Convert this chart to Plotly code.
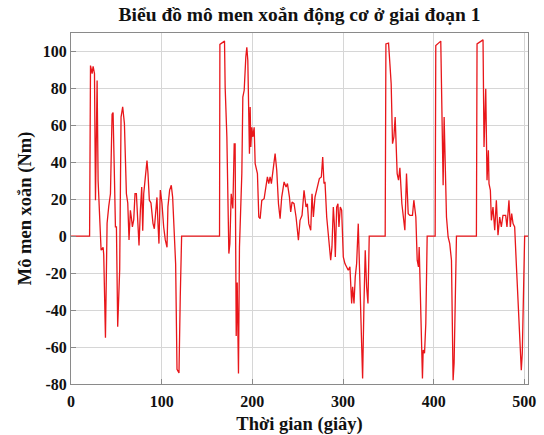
import plotly.graph_objects as go

t_seg1 = [0, 20.5, 21.5, 23.3, 24.4, 25.9, 27, 28.8, 29.9, 31.7, 33.2, 35.4, 36.1, 38, 39.8, 41.6, 43.5, 45.3, 46.4, 47.9,
          49, 50.1, 51.5, 53.7, 55.2, 57, 58.9, 61.1, 62.6, 64, 65.5, 66.6, 67.7, 69.2, 70.6, 72.1, 73.6, 75, 76.5, 78,
          79.1, 80.2, 82, 83.8, 84.9, 86.4, 88.2, 90.4, 91.9, 93.4, 94.8, 95.9, 97, 98.5, 100.3, 102.2, 104, 105.9, 106.9, 108.8,
          110.6, 112.1, 113.9, 115.4, 116.9, 119.1, 120.5, 122]
v_seg1 = [0, 0, 92.4, 88, 92, 88, 19.5, 84.3, 30, 3, -7.6, -6, -10, -55, 7, 16, 23, 66, 67, 32,
          5, 5, -49, -18, 64.5, 70, 61, 23, 18, -2, 14, 10, 5, 9, 23, 23, 3, -5, 14, 26.6,
          3, 23, 32, 41, 34, 19.5, 18, 7, 4, 14, 21, 7, -4, 25, 18, 5, -2, -6, 16, 25,
          27.6, 21, 3, -15, -72, -74, -32.8, 0]

t_seg2 = [163.8, 164.2, 169.3, 170, 171.9, 173, 174.1, 175.2, 176.7, 178.5, 180, 181, 182.2, 183.3, 184.7, 185.8, 187.3,
          188.4, 189.5, 191, 192.8, 193.9, 195, 196.8, 197.6, 198.3, 199.4, 200.5, 202, 203.1, 205.6, 207.1, 208.6, 210.4,
          213, 215.2, 216.6, 218.1, 219.6, 221, 222.5, 225.1, 226.9, 228.8, 230.6, 232.4, 235, 237.2, 238.7, 240.9, 242.3,
          243.8, 246, 248.2, 250.8, 252.6, 254.8, 257, 259.2, 260.7, 262.2, 264.4, 265.8, 267.3, 269.1, 271.7, 273.9,
          276.1, 277.6, 279, 280.1, 282, 284.2, 286.4, 287.8, 289.3, 290.4, 291.5, 293, 294.4, 295.5, 297, 298.5, 300.3,
          302.1, 304, 305.8, 307.6, 309.5, 310.6, 312.1, 313.5, 315, 316.8, 317.9, 319.4, 320.9, 321.6, 323.1, 324.5,
          326, 327.5, 328.9]
v_seg2 = [0, 103.8, 105.6, 80.7, 53.7, 30.2, -9.4, -4, 23, 15, 50, 50, -54, -25, -74.3, -5.8, 24.9,
          33.9, 75.3, 79, 97, 102.3, 95.1, 44.7, 69.9, 48.3, 59, 53.7, 59, 39.3, 33.9, 10.4, 9.5, 19.4,
          20.3, 28.5, 32.1, 28.5, 32.1, 28.5, 33.9, 44.7, 35.7, 17.6, 9.5, 21.2, 29.4, 26.7, 28.5, 21.2, 13.1,
          18.5, 17.6, 10.4, -2.2, 8.6, 11.3, 24.9, 15.8, 17.6, 6.8, 3.2, 23, 10.4, 21.2, 26.7, 31.2,
          32.1, 42.9, 28.5, 29.4, 10.4, -4, -13, -5.8, 15.8, 6.8, -11.2, 15.8, 17.6, 5, 15.8, 14.1, -11.2,
          -14.8, -16.6, -18.4, -16.6, -36.4, -27.4, -36.4, -22, -14.8, 6.8, -14.8, -40, -61.6, -77, -36.4, -7.6,
          -27.4, -36.4, 0]

t_seg3 = [346.5, 347.3, 350.2, 351.7, 353.1, 354.6, 356.1, 357.5, 358.6, 359.7, 361.2, 362.7, 364.9, 365.6, 368.2,
          370, 371.9, 373.7, 376.6, 378.1, 380.3, 381.8, 383.2, 384, 385.8, 386.9, 387.6, 388.4, 389.9, 391.3, 392.8]
v_seg3 = [0, 104.1, 104.5, 93.3, 82.5, 50.1, 53.7, 64.5, 48.3, 33.9, 30.3, 37, 17.6, 14.1, 3.2,
          33.9, 12.2, 11.3, 11.3, 19.5, 10.4, -13, -16.6, -5.8, -45.4, -54.4, -77, -61.6, -63.4, -47.2, 0]

t_seg4 = [401.6, 402.3, 407.8, 409.3, 410.4, 411.5, 413, 414.1, 415.9, 417.7, 419.6, 421.4, 422.5, 425.1]
v_seg4 = [0, 103.2, 105.6, 64.5, 27.6, 64.5, 32.1, 10.4, -0.4, -4, -13, -77.9, -68.8, 0]

t_seg5 = [447.1, 447.8, 454.4, 455.5, 457.4, 458.8, 460.3, 461, 462.5, 463.6, 465.4, 467.3, 469.1, 470.9, 472.8,
          474.6, 476.4, 479.4, 480.8, 483, 484.5, 486, 487.5, 489.3, 491.1, 493, 494.8, 496.6, 497.7, 499.2, 500.3, 504]
v_seg5 = [0, 104.1, 106.3, 48.3, 79.8, 30.3, 46.5, 28.5, 24.9, 8.6, 15.8, 3.2, 19.4, 0.5, 10.4,
          5, 11.3, 11.3, 5, 19.4, 5, 12.2, 6.8, 5, -14.8, -36.4, -59.8, -72.5, -63.4, -32.8, 0, 0]

time_s = t_seg1 + t_seg2 + t_seg3 + t_seg4 + t_seg5
torque = v_seg1 + v_seg2 + v_seg3 + v_seg4 + v_seg5

x_ticks = [0, 100, 200, 300, 400, 500]
y_ticks = [-80, -60, -40, -20, 0, 20, 40, 60, 80, 100]

FONT = "Liberation Serif"

fig = go.Figure()
fig.add_trace(go.Scatter(x=time_s, y=torque, mode="lines",
                         line=dict(color="rgb(232,22,26)", width=1.3),
                         showlegend=False))

fig.update_layout(
    width=544, height=435,
    margin=dict(l=71, r=16, t=33, b=51),
    paper_bgcolor="white", plot_bgcolor="white",
    font=dict(family=FONT, color="#111111"),
    title=dict(text="<b>Biểu đồ mô men xoắn động cơ ở giai đoạn 1</b>",
               xref="paper", x=0.5, xanchor="center", yref="container", y=0.982, yanchor="top",
               font=dict(family=FONT, size=19.5, color="#111111")),
    xaxis=dict(range=[0, 504], tickvals=x_ticks, ticktext=[f"<b>{v}</b>" for v in x_ticks],
               showgrid=True, gridcolor="#d6d6d6", gridwidth=1,
               showline=True, mirror=True, linecolor="#8a8a8a", linewidth=1,
               ticks="inside", ticklen=5, tickcolor="#8a8a8a", ticklabelstandoff=3,
               zeroline=False, automargin=False,
               tickfont=dict(family=FONT, size=16, color="#111111"),
               title=dict(text="<b>Thời gian (giây)</b>", standoff=8,
                          font=dict(family=FONT, size=18.5, color="#111111"))),
    yaxis=dict(range=[-80, 110], tickvals=y_ticks, ticktext=[f"<b>{v}</b>" for v in y_ticks],
               showgrid=True, gridcolor="#d6d6d6", gridwidth=1,
               showline=True, mirror=True, linecolor="#8a8a8a", linewidth=1,
               ticks="inside", ticklen=5, tickcolor="#8a8a8a",
               zeroline=False, automargin=False,
               tickfont=dict(family=FONT, size=16, color="#111111"),
               title=dict(text="<b>Mô men xoắn (Nm)</b>", standoff=6,
                          font=dict(family=FONT, size=18.5, color="#111111"))),
)

fig.write_html("out.html")
